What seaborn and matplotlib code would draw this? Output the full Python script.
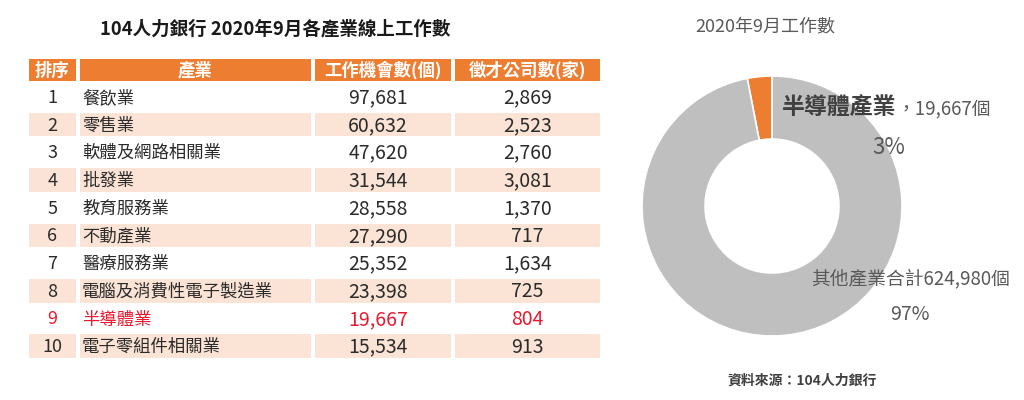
import numpy as np
import matplotlib
matplotlib.use("Agg")
import matplotlib.pyplot as plt
from matplotlib.colors import ListedColormap
import seaborn as sns

# ---------------- data ----------------
title_table = "104人力銀行 2020年9月各產業線上工作數"
headers = ["排序", "產業", "工作機會數(個)", "徵才公司數(家)"]
ranks = [1, 2, 3, 4, 5, 6, 7, 8, 9, 10]
industries = ["餐飲業", "零售業", "軟體及網路相關業", "批發業", "教育服務業",
              "不動產業", "醫療服務業", "電腦及消費性電子製造業", "半導體業", "電子零組件相關業"]
jobs = [97681, 60632, 47620, 31544, 28558, 27290, 25352, 23398, 19667, 15534]
companies = [2869, 2523, 2760, 3081, 1370, 717, 1634, 725, 804, 913]
highlight_rank = 9

pie_title = "2020年9月工作數"
pie_labels = ["半導體產業", "其他產業合計"]
pie_values = [19667, 624980]
pie_pct = ["3%", "97%"]
source_text = "資料來源：104人力銀行"

# ---------------- style ----------------
sns.set_theme(style="white")
plt.rcParams["font.family"] = ["Noto Sans CJK TC", "DejaVu Sans"]

ORANGE = "#ED7D31"
PEACH = "#FBE4D5"
GRAY = "#BFBFBF"
TXT = "#2b2b2b"
RED = "#E8192C"

W, H = 1024, 400
fig = plt.figure(figsize=(W / 100, H / 100), dpi=100)
fig.patch.set_facecolor("white")

def fx(px):
    return px / W

def fy(py):
    return 1 - py / H

# ---------------- table ----------------
tab_left, tab_top, tab_right, tab_bottom = 27, 57, 602, 360
ax = fig.add_axes([fx(tab_left), fy(tab_bottom), fx(tab_right - tab_left),
                   (tab_bottom - tab_top) / H])
col_edges = np.array([0, 51, 286, 426, 575])
header_h = 26
row_h = (tab_bottom - tab_top - header_h) / len(ranks)
row_edges = np.concatenate([[0], header_h + row_h * np.arange(len(ranks) + 1)])

n = len(ranks)
cell_vals = np.zeros((n + 1, 4))
cell_vals[0, :] = 2
for i in range(n):
    cell_vals[i + 1, :] = 1 if (i % 2 == 1) else 0
cmap = ListedColormap(["white", PEACH, ORANGE])
ax.pcolormesh(col_edges, row_edges, cell_vals, cmap=cmap, vmin=-0.5, vmax=2.5,
              edgecolors="white", linewidth=1.5)
ax.set_xlim(0, 575)
ax.set_ylim(row_edges[-1], 0)
ax.axis("off")

col_centers = (col_edges[:-1] + col_edges[1:]) / 2
hy = header_h / 2
for j, h in enumerate(headers):
    ax.text(col_centers[j], hy + 0.5, h, ha="center", va="center", color="white",
            fontsize=12.5, fontweight="bold")

for i in range(n):
    yc = header_h + row_h * (i + 0.5) + 1
    c = RED if ranks[i] == highlight_rank else TXT
    ax.text(col_centers[0], yc, str(ranks[i]), ha="center", va="center", color=c, fontsize=13)
    ax.text(55, yc, industries[i], ha="left", va="center", color=c, fontsize=12.5)
    ax.text(col_centers[2] - 5, yc, f"{jobs[i]:,}", ha="center", va="center", color=c, fontsize=14)
    ax.text(col_centers[3], yc, f"{companies[i]:,}", ha="center", va="center", color=c, fontsize=14)

fig.text(fx(275), fy(29), title_table, ha="center", va="center", color="#1a1a1a",
         fontsize=13.3, fontweight="bold")

# ---------------- donut ----------------
cx, cy, R = 772, 206, 130
axp = fig.add_axes([fx(cx - R), fy(cy + R), 2 * R / W, 2 * R / H])
axp.pie(pie_values, colors=[ORANGE, GRAY], startangle=90, counterclock=True,
        wedgeprops=dict(width=0.485, edgecolor="white", linewidth=1.2))
axp.set_xlim(-1, 1)
axp.set_ylim(-1, 1)
axp.set_aspect("auto")
axp.axis("off")

fig.text(fx(765), fy(26), pie_title, ha="center", va="center", color="#595959", fontsize=13)

t1 = fig.text(fx(782), fy(107), pie_labels[0], ha="left", va="center", color="#404040",
              fontsize=16.5, fontweight="bold")
fig.canvas.draw()
bb = t1.get_window_extent()
fig.text(bb.x1 / W, fy(109), f"，{pie_values[0]:,}個", ha="left", va="center",
         color="#595959", fontsize=13.5)
fig.text(fx(889), fy(148), pie_pct[0], ha="center", va="center", color="#595959", fontsize=16)
fig.text(fx(911), fy(280), f"{pie_labels[1]}{pie_values[1]:,}個", ha="center", va="center",
         color="#595959", fontsize=13.5)
fig.text(fx(910), fy(314), pie_pct[1], ha="center", va="center", color="#595959", fontsize=14)

fig.text(fx(802), fy(381), source_text, ha="center", va="center", color="#404040",
         fontsize=10, fontweight="bold")

fig.savefig("out.png", dpi=100, facecolor="white")
